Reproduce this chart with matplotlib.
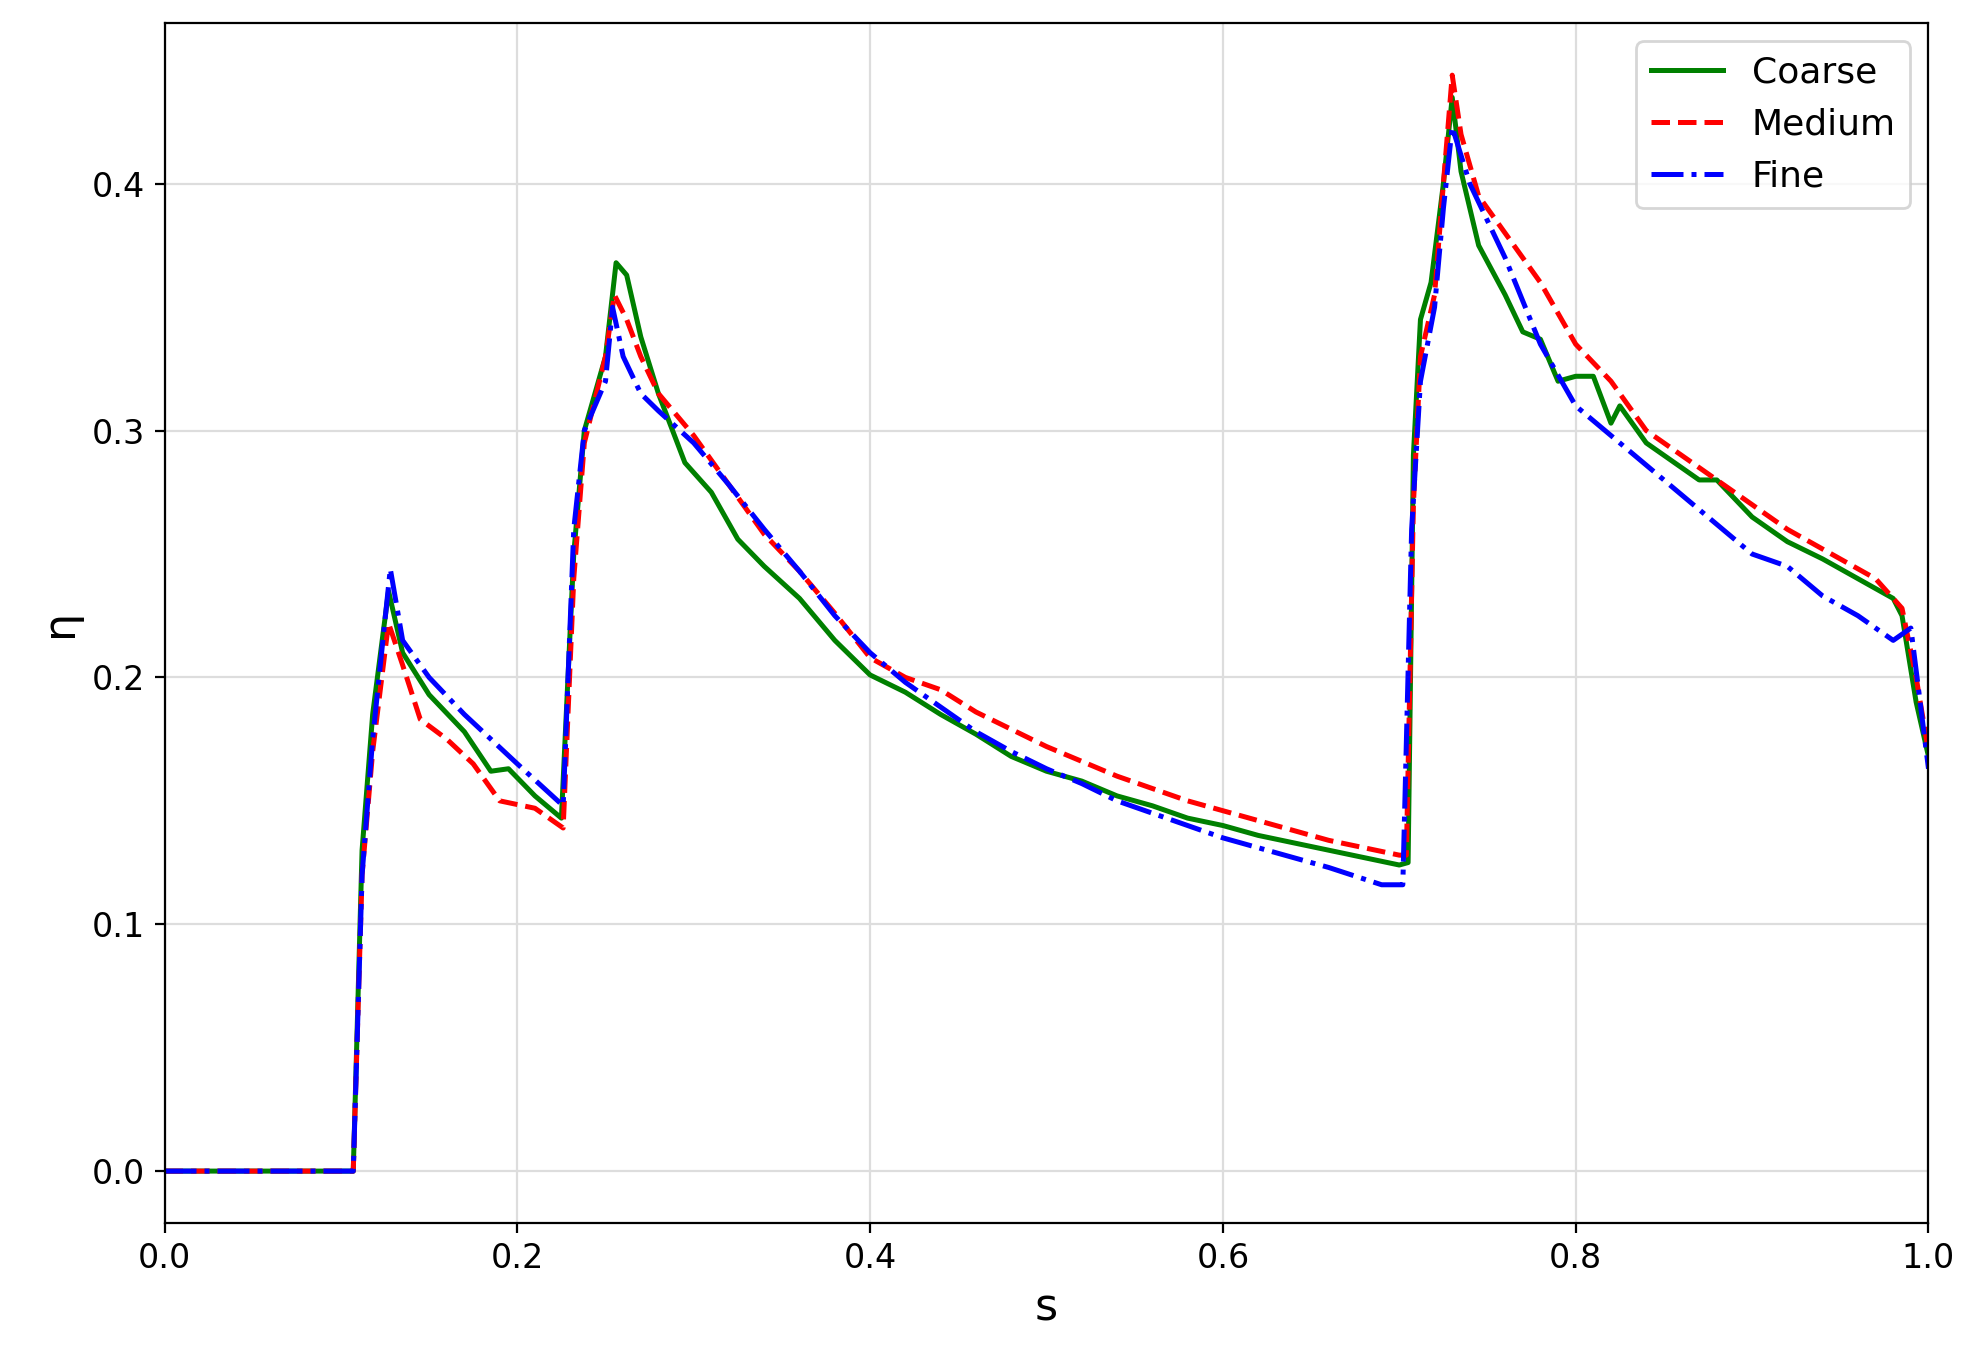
import matplotlib
matplotlib.use("Agg")
import matplotlib.pyplot as plt

# Coarse mesh
s_coarse = [0.0, 0.05, 0.107, 0.112, 0.118, 0.127, 0.135, 0.15, 0.17, 0.185, 0.195, 0.21, 0.225,
            0.232, 0.238, 0.25, 0.256, 0.262, 0.27, 0.28, 0.295, 0.31, 0.325, 0.34, 0.36, 0.38,
            0.40, 0.42, 0.44, 0.46, 0.48, 0.50, 0.52, 0.54, 0.56, 0.58, 0.60, 0.62, 0.64, 0.66,
            0.68, 0.70, 0.705, 0.708, 0.712, 0.718, 0.725, 0.73, 0.735, 0.745, 0.76, 0.77, 0.78,
            0.79, 0.80, 0.81, 0.82, 0.825, 0.84, 0.86, 0.87, 0.88, 0.90, 0.92, 0.94, 0.96, 0.98,
            0.985, 0.993, 1.0]
eta_coarse = [0.0, 0.0, 0.0, 0.13, 0.185, 0.235, 0.21, 0.193, 0.178, 0.162, 0.163, 0.152, 0.143,
              0.25, 0.30, 0.33, 0.368, 0.363, 0.338, 0.315, 0.287, 0.275, 0.256, 0.245, 0.232, 0.215,
              0.201, 0.194, 0.185, 0.177, 0.168, 0.162, 0.158, 0.152, 0.148, 0.143, 0.140, 0.136,
              0.133, 0.130, 0.127, 0.124, 0.125, 0.29, 0.345, 0.36, 0.40, 0.435, 0.405, 0.375,
              0.355, 0.34, 0.337, 0.32, 0.322, 0.322, 0.303, 0.31, 0.295, 0.285, 0.28, 0.28, 0.265,
              0.255, 0.248, 0.24, 0.232, 0.225, 0.19, 0.168]

# Medium mesh
s_medium = [0.0, 0.05, 0.107, 0.112, 0.118, 0.127, 0.135, 0.145, 0.16, 0.175, 0.19, 0.21, 0.226,
            0.232, 0.238, 0.25, 0.255, 0.262, 0.27, 0.28, 0.30, 0.32, 0.34, 0.36, 0.38, 0.40,
            0.42, 0.44, 0.46, 0.48, 0.50, 0.52, 0.54, 0.56, 0.58, 0.60, 0.62, 0.64, 0.66, 0.68,
            0.70, 0.704, 0.708, 0.712, 0.72, 0.725, 0.73, 0.735, 0.745, 0.76, 0.77, 0.78, 0.80,
            0.82, 0.84, 0.86, 0.88, 0.90, 0.92, 0.95, 0.97, 0.985, 0.993, 1.0]
eta_medium = [0.0, 0.0, 0.0, 0.12, 0.17, 0.222, 0.205, 0.183, 0.175, 0.165, 0.15, 0.147, 0.139,
              0.24, 0.295, 0.33, 0.355, 0.345, 0.33, 0.315, 0.298, 0.278, 0.258, 0.243, 0.226,
              0.208, 0.2, 0.195, 0.186, 0.179, 0.172, 0.166, 0.16, 0.155, 0.15, 0.146, 0.142,
              0.138, 0.134, 0.131, 0.128, 0.128, 0.27, 0.33, 0.355, 0.40, 0.444, 0.42, 0.395,
              0.38, 0.37, 0.36, 0.335, 0.32, 0.3, 0.29, 0.28, 0.27, 0.26, 0.248, 0.24, 0.228, 0.2, 0.17]

# Fine mesh
s_fine = [0.0, 0.05, 0.107, 0.112, 0.118, 0.128, 0.135, 0.15, 0.17, 0.2, 0.226, 0.232, 0.238,
          0.25, 0.254, 0.26, 0.27, 0.28, 0.30, 0.32, 0.34, 0.36, 0.38, 0.40, 0.42, 0.44, 0.46,
          0.48, 0.50, 0.52, 0.54, 0.56, 0.58, 0.60, 0.62, 0.64, 0.66, 0.69, 0.702, 0.707, 0.712,
          0.72, 0.725, 0.73, 0.74, 0.76, 0.78, 0.80, 0.82, 0.85, 0.88, 0.90, 0.92, 0.94, 0.96,
          0.98, 0.99, 1.0]
eta_fine = [0.0, 0.0, 0.0, 0.12, 0.175, 0.244, 0.215, 0.2, 0.185, 0.165, 0.148, 0.26, 0.30,
            0.32, 0.35, 0.33, 0.315, 0.308, 0.295, 0.278, 0.26, 0.243, 0.225, 0.21, 0.198, 0.188,
            0.178, 0.17, 0.163, 0.157, 0.15, 0.145, 0.14, 0.135, 0.131, 0.127, 0.123, 0.116,
            0.116, 0.26, 0.32, 0.35, 0.39, 0.423, 0.40, 0.37, 0.335, 0.31, 0.298, 0.28, 0.262,
            0.25, 0.245, 0.233, 0.225, 0.215, 0.22, 0.163]

fig = plt.figure(figsize=(9.91, 6.855), dpi=200)
ax = fig.add_axes([0.083, 0.108, 0.890, 0.875])

ax.plot(s_coarse, eta_coarse, color="green", linestyle="-", linewidth=1.8, label="Coarse")
ax.plot(s_medium, eta_medium, color="red", linestyle="--", linewidth=1.8, label="Medium")
ax.plot(s_fine, eta_fine, color="blue", linestyle="-.", linewidth=1.8, label="Fine")

ax.set_xlim(0.0, 1.0)
ax.set_ylim(-0.021, 0.465)
ax.set_xticks([0.0, 0.2, 0.4, 0.6, 0.8, 1.0])
ax.set_yticks([0.0, 0.1, 0.2, 0.3, 0.4])
ax.tick_params(labelsize=12)
ax.grid(True, color="#dddddd", linewidth=0.8)
ax.set_xlabel("s", fontsize=16)
ax.set_ylabel("η", fontsize=16)
ax.legend(loc="upper right", fontsize=13)

fig.savefig("out.png")
